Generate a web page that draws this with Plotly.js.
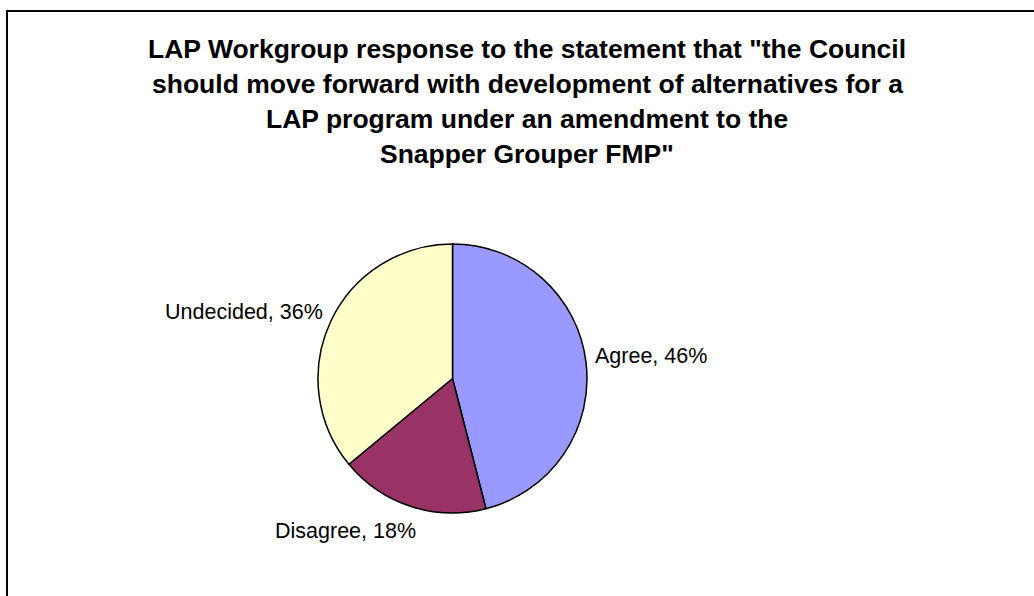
<!DOCTYPE html>
<html>
<head>
<meta charset="utf-8">
<script src="https://cdn.plot.ly/plotly-3.0.1.min.js"></script>
<style>
  html, body { margin: 0; padding: 0; background: #fff; overflow: hidden; }
  #chart { width: 1034px; height: 596px; }
  #frame { position: absolute; left: 6px; top: 10px; width: 1100px; height: 700px;
           border: 2px solid #000; pointer-events: none; }
</style>
</head>
<body>
<div id="chart"></div>
<div id="frame"></div>
<script>
// ---- data ----
const categories = ["Agree", "Disagree", "Undecided"];
const percents = [46, 18, 36];
const sliceColors = ["#9999FF", "#993366", "#FFFFCC"];
const titleLines = [
  'LAP Workgroup response to the statement that "the Council',
  'should move forward with development of alternatives for a',
  'LAP program under an amendment to the',
  'Snapper Grouper FMP"'
];

// ---- layout helpers (pixel -> paper, margins are zero) ----
const W = 1034, H = 596;
const px = x => x / W;
const py = y => 1 - y / H;

// pie placement in pixels
const cx = 452.5, cy = 378.5, r = 134.5;

// label placement (pixels) per category
const labelPos = [
  { x: 593, y: 356, xanchor: "left" },
  { x: 273, y: 531, xanchor: "left" },
  { x: 325, y: 312, xanchor: "right" }
];

const annotations = [];
titleLines.forEach((t, i) => {
  annotations.push({
    text: "<b>" + t + "</b>",
    xref: "paper", yref: "paper",
    x: px(527), y: py(49 + i * 35),
    xanchor: "center", yanchor: "middle",
    showarrow: false,
    font: { family: "Liberation Sans, Arial, sans-serif", size: 26.5, color: "#000" }
  });
});
categories.forEach((c, i) => {
  annotations.push({
    text: c + ", " + percents[i] + "%",
    xref: "paper", yref: "paper",
    x: px(labelPos[i].x), y: py(labelPos[i].y),
    xanchor: labelPos[i].xanchor, yanchor: "middle",
    showarrow: false,
    font: { family: "Liberation Sans, Arial, sans-serif", size: 21.5, color: "#000" }
  });
});

const trace = {
  type: "pie",
  labels: categories,
  values: percents,
  sort: false,
  direction: "clockwise",
  rotation: 0,
  textinfo: "none",
  hoverinfo: "label+percent",
  marker: { colors: sliceColors, line: { color: "#000", width: 1.5 } },
  domain: { x: [px(cx - r), px(cx + r)], y: [py(cy + r), py(cy - r)] },
  showlegend: false
};

const layout = {
  width: W, height: H,
  margin: { l: 0, r: 0, t: 0, b: 0 },
  paper_bgcolor: "#fff",
  plot_bgcolor: "#fff",
  showlegend: false,
  annotations: annotations
};

Plotly.newPlot("chart", [trace], layout, { displayModeBar: false, staticPlot: true });
</script>
</body>
</html>
